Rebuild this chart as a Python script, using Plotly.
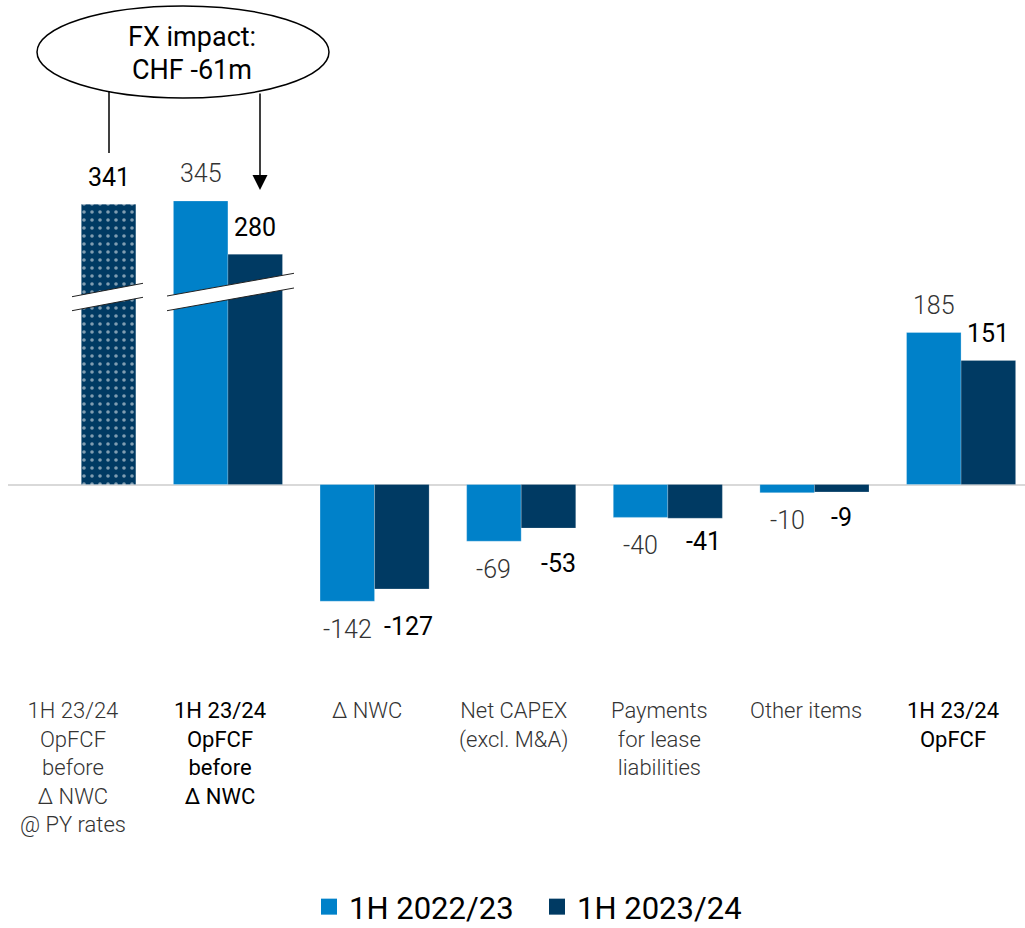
import plotly.graph_objects as go

# ---------------- data ----------------
categories = [
    "1H 23/24<br>OpFCF<br>before<br>Δ NWC<br>@ PY rates",
    "1H 23/24<br>OpFCF<br>before<br>Δ NWC",
    "Δ NWC",
    "Net CAPEX<br>(excl. M&A)",
    "Payments<br>for lease<br>liabilities",
    "Other items",
    "1H 23/24<br>OpFCF",
]
category_emphasis = [False, True, False, False, False, False, True]
series_names = ["1H 2022/23", "1H 2023/24"]
values_2223 = [None, 345, -142, -69, -40, -10, 185]
values_2324 = [341, 280, -127, -53, -41, -9, 151]
pattern_2324 = [".", "", "", "", "", "", ""]
fx_note = ["FX impact:", "CHF -61m"]

# ---------------- style ----------------
W, H = 1025, 928
LIGHT = "#0081C9"
DARK = "#003A63"
FONT = "Roboto"
X_DOMAIN_LEFT_PX = 8
X_RANGE = [-0.5, 6.436]
Y_RANGE = [-539.5, 589.4]
BARGAP = 0.256
OFF = (1 - BARGAP) / 4

x_idx = list(range(len(categories)))

x_scale = (W - X_DOMAIN_LEFT_PX) / (X_RANGE[1] - X_RANGE[0])
y_scale = H / (Y_RANGE[1] - Y_RANGE[0])


def px_to_x(px):
    return X_RANGE[0] + (px - X_DOMAIN_LEFT_PX) / x_scale


def py_to_y(py):
    return Y_RANGE[1] - py / y_scale


def paper_x(px):
    return px / W


def paper_y(py):
    return 1 - py / H


fig = go.Figure()

fig.add_trace(go.Bar(
    x=x_idx, y=values_2223, name=series_names[0],
    marker=dict(color=LIGHT, line=dict(color="rgba(255,255,255,0.35)", width=0.8)),
    showlegend=False, hoverinfo="skip",
))
fig.add_trace(go.Bar(
    x=x_idx, y=values_2324, name=series_names[1],
    marker=dict(
        color=DARK,
        line=dict(color="rgba(255,255,255,0.25)", width=0.8),
        pattern=dict(shape=pattern_2324, fillmode="overlay", fgcolor="white",
                     size=8, solidity=0.16),
    ),
    showlegend=False, hoverinfo="skip",
))

# legend proxies
for name, col in zip(series_names, [LIGHT, DARK]):
    fig.add_trace(go.Scatter(
        x=[None], y=[None], mode="markers", name=name,
        marker=dict(symbol="square", size=18, color=col),
    ))

annotations = []

# value labels
dark_nudge_px = [(0, 0), (0, 0), (7, -10), (10, -7), (8, 5), (0, 2), (0, 0)]
for i, v in enumerate(values_2223):
    if v is None:
        continue
    annotations.append(dict(
        x=i - OFF, y=v, xref="x", yref="y", text=str(v), showarrow=False,
        yanchor="middle", yshift=27 if v > 0 else -28,
        font=dict(family=FONT, size=25, color="#333333", weight=300),
    ))
for i, v in enumerate(values_2324):
    if v is None:
        continue
    dx, dy = dark_nudge_px[i]
    annotations.append(dict(
        x=i + OFF, y=v, xref="x", yref="y", text=str(v), showarrow=False,
        yanchor="middle", yshift=(27 if v > 0 else -28) + dy, xshift=dx,
        font=dict(family=FONT, size=25, color="#000000", weight=400),
    ))

# category labels
for i, (c, emph) in enumerate(zip(categories, category_emphasis)):
    annotations.append(dict(
        x=i, y=paper_y(696), xref="x", yref="paper", text=c, showarrow=False,
        xshift=-8, yanchor="top", align="center",
        font=dict(family=FONT, size=22, color="#000000" if emph else "#333333",
                  weight=400 if emph else 300),
    ))

# FX note text
for txt, py in zip(fx_note, (37, 70)):
    annotations.append(dict(
        x=paper_x(192), y=paper_y(py), xref="paper", yref="paper", text=txt,
        showarrow=False, xanchor="center", yanchor="middle",
        font=dict(family=FONT, size=27, color="#000000"),
    ))
# arrow
annotations.append(dict(
    x=paper_x(260), y=paper_y(190), xref="paper", yref="paper", text="",
    showarrow=True, arrowhead=2, arrowsize=2, arrowwidth=1.5, arrowcolor="#000000",
    axref="pixel", ayref="pixel", ax=0, ay=-98,
))

shapes = []
# ellipse
shapes.append(dict(
    type="circle", xref="paper", yref="paper",
    x0=paper_x(37), x1=paper_x(329), y0=paper_y(98), y1=paper_y(6),
    line=dict(color="#000000", width=1.5), fillcolor="white", layer="above",
))
# plain connector line
shapes.append(dict(
    type="line", xref="paper", yref="paper",
    x0=paper_x(109), x1=paper_x(109), y0=paper_y(92), y1=paper_y(153),
    line=dict(color="#000000", width=1.5), layer="above",
))

# axis break bands (decoration): (x_left_px, x_right_px, y_upper_left_px, y_upper_right_px, thickness_px)
break_bands = [(72, 143, 296.7, 283.3, 14), (167, 294, 296.0, 273.3, 14.7)]
for xl, xr, yl, yr, t in break_bands:
    x0, x1 = px_to_x(xl), px_to_x(xr)
    path = "M {},{} L {},{} L {},{} L {},{} Z".format(
        x0, py_to_y(yl), x1, py_to_y(yr), x1, py_to_y(yr + t), x0, py_to_y(yl + t))
    shapes.append(dict(type="path", xref="x", yref="y", path=path,
                       fillcolor="white", line=dict(width=0), layer="above"))
    for off in (0, t):
        shapes.append(dict(type="line", xref="x", yref="y",
                           x0=x0, x1=x1, y0=py_to_y(yl + off), y1=py_to_y(yr + off),
                           line=dict(color="#222222", width=1), layer="above"))

fig.update_layout(
    width=W, height=H,
    margin=dict(l=0, r=0, t=0, b=0, autoexpand=False),
    paper_bgcolor="white", plot_bgcolor="white",
    barmode="group", bargap=BARGAP, bargroupgap=0,
    font=dict(family=FONT),
    xaxis=dict(domain=[X_DOMAIN_LEFT_PX / W, 1], range=X_RANGE, showgrid=False,
               zeroline=False, showticklabels=False, showline=False, ticks=""),
    yaxis=dict(range=Y_RANGE, showgrid=False, zeroline=True, zerolinecolor="#D9D9D9",
               zerolinewidth=2, showticklabels=False, showline=False, ticks=""),
    showlegend=True,
    legend=dict(orientation="h", x=paper_x(537), xanchor="center",
                y=paper_y(907), yanchor="middle",
                font=dict(family=FONT, size=31, color="#000000"),
                itemsizing="trace", itemwidth=30, entrywidth=183,
                bgcolor="rgba(0,0,0,0)"),
    annotations=annotations,
    shapes=shapes,
)

fig.write_html("out.html")
